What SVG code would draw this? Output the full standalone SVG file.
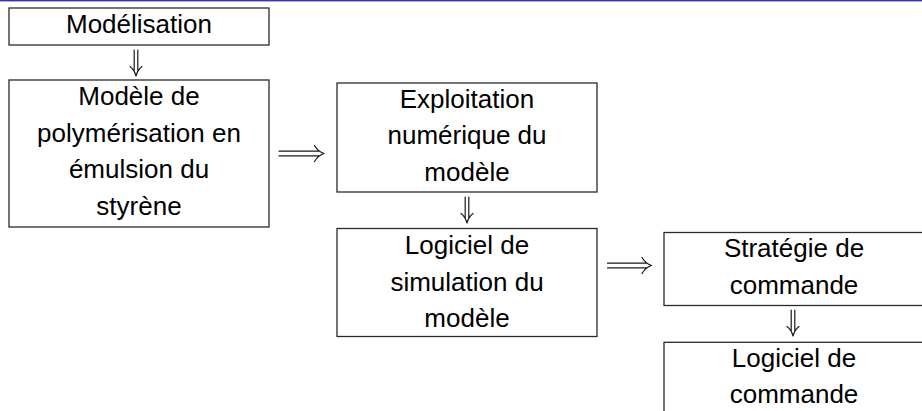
<svg xmlns="http://www.w3.org/2000/svg" width="922" height="411" viewBox="0 0 922 411">
<style>
.box{fill:#fff;stroke:#2a2a2a;stroke-width:1.3}
.t{font-family:"Liberation Sans",Arial,sans-serif;font-size:26px;fill:#000;text-anchor:middle}
.arr{fill:none;stroke:#1a1a1a;stroke-width:1.2;stroke-linecap:round;stroke-linejoin:round}
</style>
<rect x="0" y="0" width="922" height="411" fill="#fff"/>
<rect x="0" y="0" width="922" height="1.4" fill="#3333b3"/>
<g id="n1"><rect class="box" x="9" y="8" width="260" height="37"/>
<text class="t" x="139" y="33">Modélisation</text></g>
<g id="n2"><rect class="box" x="9" y="80" width="260" height="147"/>
<text class="t" x="139" y="105">Modèle de</text>
<text class="t" x="139" y="142">polymérisation en</text>
<text class="t" x="139" y="178">émulsion du</text>
<text class="t" x="139" y="215">styrène</text></g>
<g id="n3"><rect class="box" x="337" y="83" width="260" height="109"/>
<text class="t" x="467" y="108">Exploitation</text>
<text class="t" x="467" y="144">numérique du</text>
<text class="t" x="467" y="181">modèle</text></g>
<g id="n4"><rect class="box" x="337" y="228.5" width="260" height="108"/>
<text class="t" x="467" y="254">Logiciel de</text>
<text class="t" x="467" y="291">simulation du</text>
<text class="t" x="467" y="327">modèle</text></g>
<g id="n5"><rect class="box" x="664" y="232.5" width="262" height="73"/>
<text class="t" x="794" y="257">Stratégie de</text>
<text class="t" x="794" y="294">commande</text></g>
<g id="n6"><rect class="box" x="664" y="342.3" width="262" height="80"/>
<text class="t" x="794" y="367">Logiciel de</text>
<text class="t" x="794" y="403">commande</text></g>
<g id="connectors">
<path class="arr" d="M134.2 50V71M137.8 50V71M130 66.5Q134.5 70 136 76Q137.5 70 142 66.5"/>
<path class="arr" d="M465.2 197V218M468.8 197V218M461 213.5Q465.5 217 467 223Q468.5 217 473 213.5"/>
<path class="arr" d="M791.2 310V331M794.8 310V331M787 326.5Q791.5 330 793 336Q794.5 330 799 326.5"/>
<path class="arr" d="M279 151.2H319M279 155.8H319M314.5 145.5Q318 151.5 324 153.5Q318 155.5 314.5 161.5"/>
<path class="arr" d="M607.5 263.2H646.5M607.5 267.8H646.5M642 257.5Q645.5 263.5 651.5 265.5Q645.5 267.5 642 273.5"/>
</g>
</svg>
